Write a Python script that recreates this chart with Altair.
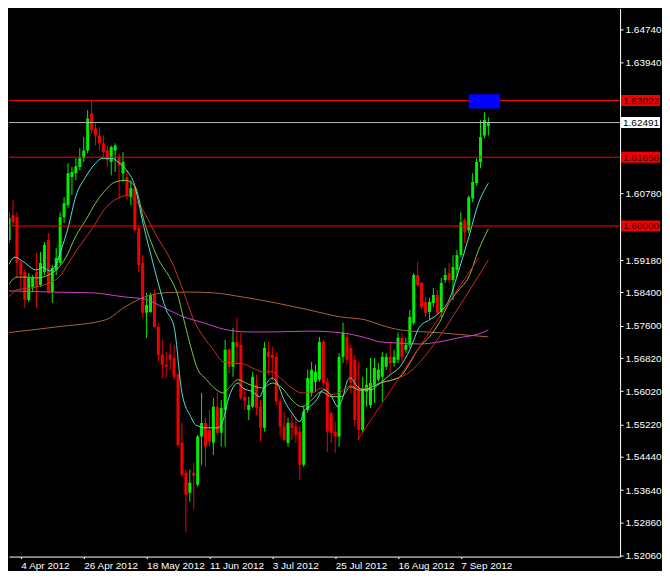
import json
import altair as alt
import pandas as pd

# ------------------------------------------------------------------ data
# GBPUSD daily bars, 30 Mar 2012 (bar 0) .. 18 Sep 2012 (bar 122), weekdays only
opens = [1.5966, 1.6026, 1.6021, 1.5913, 1.5889, 1.5822, 1.5853, 1.5889, 1.5858, 1.5889,
         1.5966, 1.5841, 1.5894, 1.5911, 1.6021, 1.6050, 1.6118, 1.6127, 1.6142, 1.6163,
         1.6182, 1.6271, 1.6235, 1.6218, 1.6199, 1.6182, 1.6154, 1.6182, 1.6163, 1.6127,
         1.6118, 1.6069, 1.6091, 1.5995, 1.5911, 1.5791, 1.5793, 1.5834, 1.5757, 1.5690,
         1.5666, 1.5690, 1.5682, 1.5642, 1.5478, 1.5406, 1.5358, 1.5406, 1.5377, 1.5493,
         1.5526, 1.5509, 1.5478, 1.5565, 1.5502, 1.5557, 1.5702, 1.5661, 1.5721, 1.5714,
         1.5589, 1.5557, 1.5565, 1.5618, 1.5565, 1.5514, 1.5697, 1.5690, 1.5685, 1.5577,
         1.5517, 1.5478, 1.5526, 1.5517, 1.5505, 1.5425, 1.5557, 1.5598, 1.5625, 1.5630,
         1.5721, 1.5625, 1.5550, 1.5505, 1.5493, 1.5685, 1.5733, 1.5706, 1.5678, 1.5606,
         1.5509, 1.5601, 1.5569, 1.5613, 1.5630, 1.5637, 1.5661, 1.5685, 1.5670, 1.5678,
         1.5731, 1.5702, 1.5714, 1.5767, 1.5882, 1.5863, 1.5817, 1.5793, 1.5815, 1.5834,
         1.5793, 1.5870, 1.5887, 1.5870, 1.5894, 1.5930, 1.6014, 1.5990, 1.6067, 1.6103,
         1.6154, 1.6218, 1.6240]
highs = [1.6033, 1.6062, 1.6033, 1.5918, 1.5894, 1.5887, 1.5882, 1.5935, 1.5937, 1.5961,
         1.5983, 1.5906, 1.5947, 1.6033, 1.6069, 1.6151, 1.6142, 1.6163, 1.6187, 1.6214,
         1.6279, 1.6303, 1.6247, 1.6238, 1.6218, 1.6194, 1.6194, 1.6199, 1.6175, 1.6178,
         1.6134, 1.6110, 1.6103, 1.5997, 1.5930, 1.5839, 1.5839, 1.5846, 1.5767, 1.5726,
         1.5697, 1.5718, 1.5714, 1.5646, 1.5526, 1.5413, 1.5413, 1.5430, 1.5497, 1.5598,
         1.5538, 1.5557, 1.5586, 1.5598, 1.5581, 1.5726, 1.5706, 1.5755, 1.5779, 1.5743,
         1.5610, 1.5589, 1.5649, 1.5642, 1.5581, 1.5721, 1.5721, 1.5709, 1.5697, 1.5589,
         1.5553, 1.5538, 1.5550, 1.5538, 1.5517, 1.5565, 1.5654, 1.5673, 1.5666, 1.5733,
         1.5726, 1.5634, 1.5553, 1.5529, 1.5694, 1.5767, 1.5743, 1.5714, 1.5690, 1.5673,
         1.5637, 1.5658, 1.5682, 1.5682, 1.5670, 1.5697, 1.5694, 1.5718, 1.5702, 1.5743,
         1.5743, 1.5731, 1.5798, 1.5887, 1.5913, 1.5865, 1.5829, 1.5827, 1.5851, 1.5846,
         1.5875, 1.5899, 1.5911, 1.5930, 1.5942, 1.6033, 1.6019, 1.6074, 1.6127, 1.6163,
         1.6255, 1.6274, 1.6262]
lows = [1.5959, 1.6002, 1.5877, 1.5846, 1.5803, 1.5817, 1.5841, 1.5803, 1.5853, 1.5882,
        1.5839, 1.5815, 1.5882, 1.5906, 1.6007, 1.6043, 1.6074, 1.6110, 1.6134, 1.6154,
        1.6175, 1.6223, 1.6194, 1.6182, 1.6163, 1.6142, 1.6122, 1.6130, 1.6067, 1.6106,
        1.6062, 1.6050, 1.5985, 1.5889, 1.5781, 1.5731, 1.5791, 1.5755, 1.5673, 1.5634,
        1.5634, 1.5654, 1.5630, 1.5469, 1.5396, 1.5264, 1.5336, 1.5317, 1.5372, 1.5425,
        1.5420, 1.5469, 1.5449, 1.5497, 1.5469, 1.5469, 1.5646, 1.5637, 1.5666, 1.5581,
        1.5557, 1.5533, 1.5562, 1.5545, 1.5481, 1.5505, 1.5642, 1.5630, 1.5569, 1.5493,
        1.5481, 1.5469, 1.5485, 1.5478, 1.5389, 1.5420, 1.5550, 1.5589, 1.5601, 1.5625,
        1.5613, 1.5456, 1.5478, 1.5454, 1.5469, 1.5670, 1.5666, 1.5598, 1.5517, 1.5485,
        1.5502, 1.5565, 1.5562, 1.5574, 1.5625, 1.5577, 1.5654, 1.5646, 1.5661, 1.5670,
        1.5673, 1.5694, 1.5706, 1.5762, 1.5853, 1.5798, 1.5781, 1.5774, 1.5805, 1.5786,
        1.5781, 1.5863, 1.5863, 1.5822, 1.5877, 1.5925, 1.5959, 1.5983, 1.6057, 1.6098,
        1.6139, 1.6211, 1.6218]
closes = [1.6019, 1.6009, 1.5911, 1.5882, 1.5822, 1.5875, 1.5875, 1.5853, 1.5911, 1.5954,
          1.5841, 1.5899, 1.5923, 1.6021, 1.6055, 1.6127, 1.6130, 1.6144, 1.6163, 1.6182,
          1.6259, 1.6231, 1.6218, 1.6199, 1.6178, 1.6158, 1.6190, 1.6194, 1.6146, 1.6154,
          1.6074, 1.6091, 1.5990, 1.5906, 1.5791, 1.5810, 1.5834, 1.5757, 1.5690, 1.5666,
          1.5661, 1.5678, 1.5637, 1.5473, 1.5401, 1.5353, 1.5382, 1.5399, 1.5493, 1.5526,
          1.5469, 1.5481, 1.5565, 1.5502, 1.5562, 1.5702, 1.5661, 1.5721, 1.5709, 1.5586,
          1.5579, 1.5569, 1.5637, 1.5562, 1.5514, 1.5706, 1.5685, 1.5682, 1.5577, 1.5517,
          1.5485, 1.5526, 1.5514, 1.5497, 1.5425, 1.5553, 1.5634, 1.5654, 1.5649, 1.5721,
          1.5622, 1.5505, 1.5502, 1.5493, 1.5685, 1.5743, 1.5678, 1.5622, 1.5533, 1.5509,
          1.5610, 1.5618, 1.5622, 1.5658, 1.5654, 1.5685, 1.5685, 1.5670, 1.5685, 1.5731,
          1.5685, 1.5714, 1.5781, 1.5882, 1.5858, 1.5805, 1.5791, 1.5817, 1.5834, 1.5791,
          1.5863, 1.5882, 1.5870, 1.5901, 1.5930, 1.6009, 1.5985, 1.6069, 1.6106, 1.6154,
          1.6214, 1.6255, 1.62491]

tick_bars = [3, 19, 35, 51, 67, 83, 99, 115]
tick_labels = ["4 Apr 2012", "26 Apr 2012", "18 May 2012", "11 Jun 2012",
               "3 Jul 2012", "25 Jul 2012", "16 Aug 2012", "7 Sep 2012"]
# price-scale labels that are not hidden behind the line labels
price_ticks = [1.64740, 1.63940, 1.60780, 1.59180, 1.58400, 1.57600, 1.56820, 1.56020,
               1.55220, 1.54440, 1.53640, 1.52860, 1.52060]

# moving-average lines (bar position, price)
cyan_bar = [-0.5, 1.5, 3.75, 7, 8.75, 10.25, 12, 13.25, 15, 17, 19.5, 22, 23.75, 26.25, 27.75,
            30.25, 31.5, 34.5, 36.25, 37.75, 40, 42, 44, 46.25, 47.5, 50.25, 53.25, 54.5, 55.75,
            58.25, 59.5, 62, 63.75, 65, 67, 68.25, 70, 72, 74, 75.25, 76.5, 78.25, 80, 81.5,
            83.75, 85, 86.25, 87, 88.25, 90, 92, 94.5, 97, 99.5, 102, 104.5, 107, 109.5, 112,
            114.5, 117, 119.5, 122]
cyan_price = [1.5899, 1.5925, 1.5913, 1.5894, 1.5901, 1.5892, 1.5908, 1.5942, 1.5995, 1.6072,
              1.6118, 1.6151, 1.6163, 1.6163, 1.6154, 1.6130, 1.6110, 1.5990, 1.5925, 1.5870,
              1.5798, 1.5757, 1.5598, 1.5541, 1.5521, 1.5514, 1.5514, 1.5533, 1.5581, 1.5622,
              1.5610, 1.5601, 1.5589, 1.5613, 1.5634, 1.5622, 1.5581, 1.5550, 1.5529, 1.5557,
              1.5565, 1.5581, 1.5606, 1.5598, 1.5565, 1.5589, 1.5630, 1.5634, 1.5618, 1.5606,
              1.5606, 1.5622, 1.5642, 1.5661, 1.5702, 1.5757, 1.5774, 1.5791, 1.5822, 1.5894,
              1.5973, 1.6055, 1.6103]
green_bar = [-0.5, 2, 4.5, 7, 9.5, 12, 14.5, 17, 19.5, 22, 24.5, 27, 29.5, 32, 34.5, 37.75,
             41.25, 42.75, 44.5, 46.25, 47.75, 50.25, 52.75, 54.5, 56.25, 58.25, 60.75, 64.5,
             67, 69.5, 72, 74.5, 77, 79.5, 82, 84.5, 87, 89.5, 94.5, 99.5, 102, 104.5, 107,
             109.5, 112, 114.5, 117, 119.5, 122]
green_price = [1.5853, 1.5877, 1.5877, 1.5875, 1.5880, 1.5894, 1.5925, 1.5976, 1.6014, 1.6055,
               1.6086, 1.6106, 1.6110, 1.6096, 1.6007, 1.5925, 1.5870, 1.5839, 1.5774, 1.5709,
               1.5661, 1.5630, 1.5606, 1.5598, 1.5613, 1.5630, 1.5620, 1.5610, 1.5622, 1.5610,
               1.5581, 1.5565, 1.5581, 1.5601, 1.5589, 1.5589, 1.5613, 1.5604, 1.5622, 1.5637,
               1.5670, 1.5709, 1.5733, 1.5767, 1.5815, 1.5846, 1.5877, 1.5942, 1.5993]
red_bar = [-0.5, 2, 7, 10.25, 12.75, 15.25, 17.75, 21.25, 24.5, 27.75, 30.25, 32.75, 37.75, 42,
           44.5, 47, 49.5, 52, 54.5, 57, 59.5, 62, 64.5, 67, 69.5, 72, 74.5, 77, 79.5, 82,
           84.5, 87, 89.5, 94.5, 102, 109.5, 114.5, 122]
red_price = [1.5824, 1.5846, 1.5853, 1.5863, 1.5877, 1.5913, 1.5949, 1.5995, 1.6043, 1.6067,
             1.6074, 1.6055, 1.5973, 1.5901, 1.5839, 1.5774, 1.5733, 1.5702, 1.5673, 1.5670,
             1.5668, 1.5658, 1.5649, 1.5649, 1.5630, 1.5610, 1.5598, 1.5598, 1.5610, 1.5594,
             1.5601, 1.5615, 1.5608, 1.5622, 1.5649, 1.5733, 1.5805, 1.5918]
magenta_bar = [-0.5, 10.25, 21.25, 29.5, 34.5, 39.5, 44.5, 49.5, 54.5, 60.75, 67.75, 76.25,
               84.5, 90.75, 94.5, 99.5, 104.5, 109.5, 114.5, 119.5, 122]
magenta_price = [1.5844, 1.5841, 1.5839, 1.5829, 1.5824, 1.5803, 1.5781, 1.5767, 1.5752, 1.5745,
                 1.5745, 1.5747, 1.5743, 1.5731, 1.5721, 1.5718, 1.5716, 1.5721, 1.5731, 1.5740,
                 1.5750]
orange_bar = [-0.5, 12, 24.5, 29.5, 34.5, 39.5, 45.75, 52, 59.5, 67.75, 76.25, 84.5, 90.75,
              94.5, 99.5, 109.5, 122]
orange_price = [1.5743, 1.5757, 1.5774, 1.5805, 1.5829, 1.5839, 1.5841, 1.5839, 1.5829, 1.5815,
                1.5798, 1.5781, 1.5774, 1.5762, 1.5750, 1.5743, 1.5733]

level_prices = [1.63022, 1.61656, 1.60000]   # red horizontal lines
bid_price = [1.62491]                        # current bid line
trend_bar = [88.75, 119.5]
trend_price = [1.5485, 1.5923]
zone_bar = [117, 125]
zone_price = [1.6317, 1.6283]

# ------------------------------------------------------------------ style
W, H = 612, 549
FONT = "Liberation Sans"
WHITE = "#FFFFFF"
BULL, BEAR = "#00EE00", "#F00000"

x_scale = alt.Scale(domain=[1.25, 154.25], nice=False, zero=False)
y_scale = alt.Scale(domain=[1.52041, 1.65238], nice=False, zero=False)

label_expr = f"{json.dumps(tick_labels)}[indexof({json.dumps(tick_bars)}, datum.value)]"
x_axis = alt.Axis(values=tick_bars, labelExpr=label_expr, orient="bottom", title=None,
                  grid=False, domainColor=WHITE, tickColor=WHITE, tickSize=2,
                  labelColor=WHITE, labelFont=FONT, labelFontSize=10, labelAlign="left",
                  labelBaseline="top", labelPadding=2, labelFlush=False,
                  labelOverlap=False, labelBound=False)
y_axis = alt.Axis(values=price_ticks, format=".5f", orient="right", title=None, grid=False,
                  domainColor=WHITE, tickColor=WHITE, tickSize=3, labelColor=WHITE,
                  labelFont=FONT, labelFontSize=10, labelPadding=2, labelFlush=False,
                  labelOverlap=False)


def X(field):
    return alt.X(field, scale=x_scale, axis=x_axis)


def Y(field):
    return alt.Y(field, scale=y_scale, axis=y_axis)


candles = pd.DataFrame({"bar": list(range(len(opens))), "open": opens, "high": highs,
                        "low": lows, "close": closes})
candles["dir"] = ["up" if c >= o else "down" for o, c in zip(opens, closes)]
dir_color = alt.Color("dir:N", scale=alt.Scale(domain=["up", "down"], range=[BULL, BEAR]),
                      legend=None)

wicks = alt.Chart(candles).mark_rule(strokeWidth=1, clip=True).encode(
    x=X("bar:Q"), y=Y("low:Q"), y2="high:Q", color=dir_color)
bodies = alt.Chart(candles).mark_bar(width=3, clip=True).encode(
    x=X("bar:Q"), y=Y("open:Q"), y2="close:Q", color=dir_color)


def line_layer(bars, prices, color, width=1.0, interp="monotone"):
    df = pd.DataFrame({"bar": bars, "price": prices})
    return alt.Chart(df).mark_line(color=color, strokeWidth=width, interpolate=interp,
                                   clip=True).encode(x=X("bar:Q"), y=Y("price:Q"))


ma_layers = [
    line_layer(orange_bar, orange_price, "#A8643A"),
    line_layer(magenta_bar, magenta_price, "#D040D0"),
    line_layer(red_bar, red_price, "#C83020"),
    line_layer(green_bar, green_price, "#80C840"),
    line_layer(cyan_bar, cyan_price, "#50E0D8"),
]
trend = line_layer(trend_bar, trend_price, "#E01010", interp="linear")

levels_df = pd.DataFrame({"price": level_prices})
bid_df = pd.DataFrame({"price": bid_price})

levels = alt.Chart(levels_df).mark_rule(color="#FF0000", strokeWidth=1).encode(y=Y("price:Q"))
bid = alt.Chart(bid_df).mark_rule(color="#B8B8B8", strokeWidth=1).encode(y=Y("price:Q"))

zone_df = pd.DataFrame({"b0": [zone_bar[0]], "b1": [zone_bar[1]],
                        "p0": [zone_price[0]], "p1": [zone_price[1]]})
zone = alt.Chart(zone_df).mark_rect(color="#0000FF").encode(
    x=X("b0:Q"), x2="b1:Q", y=Y("p0:Q"), y2="p1:Q")


def price_box(df, fill, text_color):
    box = alt.Chart(df).mark_tick(orient="horizontal", thickness=11, size=39, opacity=1,
                                  color=fill).encode(
        x=alt.value(W + 20.5), y=Y("price:Q"))
    txt = alt.Chart(df).mark_text(align="left", baseline="middle", font=FONT, fontSize=10,
                                  color=text_color, dy=0.5).encode(
        x=alt.value(W + 3), y=Y("price:Q"),
        text=alt.Text("price:Q", format=".5f"))
    return [box, txt]


chart = alt.layer(
    wicks, bodies, *ma_layers, trend, levels, bid, zone,
    *price_box(levels_df, "#F00000", "#3A0000"),
    *price_box(bid_df, "#FFFFFF", "#000000"),
).properties(
    width=W, height=H, padding=0, background="#000000"
).configure_view(stroke=None)

chart.save("out.html", embed_options={"renderer": "svg", "actions": False})
